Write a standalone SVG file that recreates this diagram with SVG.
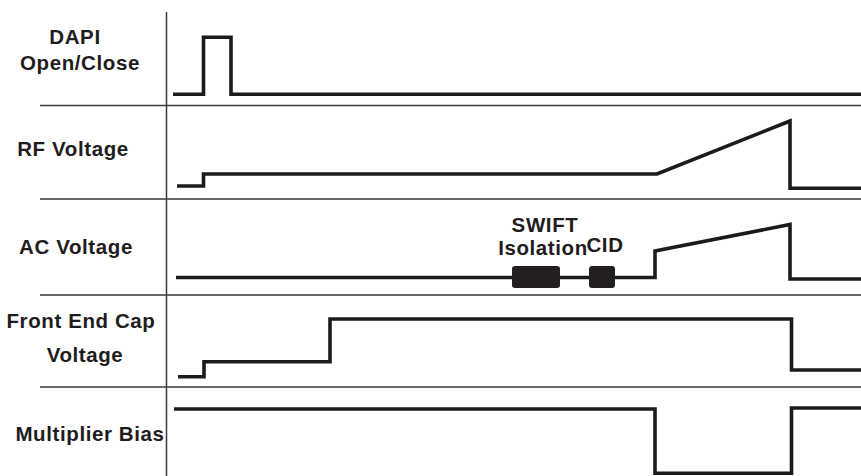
<svg xmlns="http://www.w3.org/2000/svg" width="861" height="476" viewBox="0 0 861 476">
<style>
.grid{stroke:#3a3a3a;stroke-width:1.5;fill:none}
.trace{stroke:#1c1a1b;stroke-width:3.6;fill:none;stroke-linejoin:miter;stroke-linecap:butt}
.lbl{font-family:"Liberation Sans",Arial,sans-serif;font-weight:bold;font-size:20.5px;letter-spacing:0.6px;fill:#1f1c1d;text-anchor:middle}
.blk{fill:#231f20}
</style>
<rect width="861" height="476" fill="#fff"/>
<g id="grid">
<line class="grid" x1="166.5" y1="12" x2="166.5" y2="476"/>
<line class="grid" x1="40" y1="105.5" x2="861" y2="105.5"/>
<line class="grid" x1="40" y1="199" x2="861" y2="199"/>
<line class="grid" x1="40" y1="295" x2="861" y2="295"/>
<line class="grid" x1="40" y1="387" x2="861" y2="387"/>
</g>
<g id="labels">
<text class="lbl" x="75" y="44">DAPI</text>
<text class="lbl" x="80" y="70">Open/Close</text>
<text class="lbl" x="73" y="156">RF Voltage</text>
<text class="lbl" x="76" y="254">AC Voltage</text>
<text class="lbl" x="81" y="328">Front End Cap</text>
<text class="lbl" x="85" y="362">Voltage</text>
<text class="lbl" x="90" y="441">Multiplier Bias</text>
</g>
<g id="connectors">
<path id="dapi" class="trace" d="M173,94.3 H203.5 V37.3 H231 V94.3 H861"/>
<path id="rf" class="trace" d="M177,186 H203.5 V174 H657 L790,121 V188.3 H861"/>
<path id="ac" class="trace" d="M176,277.5 H655 V251 L790,224.5 V279 H861"/>
<path id="fec" class="trace" d="M178,376.7 H204 V361.7 H330 V319 H791.5 V370 H861"/>
<path id="mb" class="trace" d="M174,409 H655 V473.3 H791.5 V408 H861"/>
</g>
<g id="swift">
<rect class="blk" x="512" y="266" width="48" height="22" rx="3"/>
<text class="lbl" x="545" y="232">SWIFT</text>
<text class="lbl" x="543" y="255">Isolation</text>
</g>
<g id="cid">
<rect class="blk" x="589" y="266" width="26" height="22" rx="3"/>
<text class="lbl" x="605" y="252">CID</text>
</g>
</svg>
